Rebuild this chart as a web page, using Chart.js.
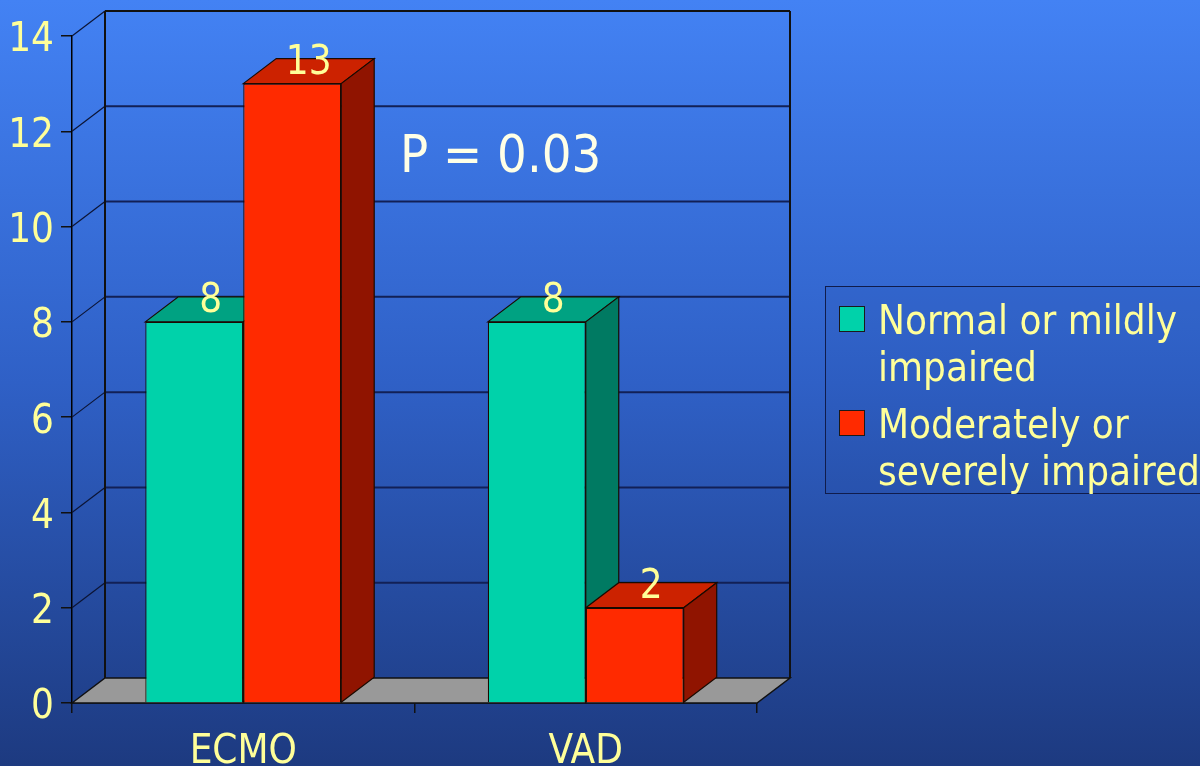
<!DOCTYPE html>
<html>
<head>
<meta charset="utf-8">
<script src="https://cdn.jsdelivr.net/npm/chart.js@4.4.1/dist/chart.umd.min.js"></script>
<style>
  html, body { margin: 0; padding: 0; width: 1200px; height: 766px; overflow: hidden; }
  body {
    position: relative;
    background: linear-gradient(to bottom, #4382f4 0%, #2f60c6 50%, #1d3a80 100%);
    font-family: 'DejaVu Sans Condensed', 'DejaVu Sans', sans-serif;
  }
  #chart { position: absolute; left: 0; top: 0; }
  #legend {
    position: absolute; left: 825px; top: 286px; width: 400px; height: 206px;
    border: 1.5px solid #101c4c; background: rgba(10, 20, 80, 0.04);
    color: #ffff99; font-size: 40px; line-height: 47px;
  }
  .item { position: absolute; left: 0; }
  .swatch { position: absolute; left: 13px; top: 9px; width: 24px; height: 24px; border: 1.5px solid #1a1a1a; }
  .text { position: absolute; left: 52px; top: 0; white-space: nowrap; }
</style>
</head>
<body>
<canvas id="chart" width="1200" height="766"></canvas>
<div id="legend"></div>
<script>
// 1. Data
const categories = ['ECMO', 'VAD'];
const normalValues = [8, 8];
const impairedValues = [13, 2];
const seriesLabels = [['Normal or mildly', 'impaired'], ['Moderately or', 'severely impaired']];
const yTicks = [0, 2, 4, 6, 8, 10, 12, 14];
const pValueText = 'P = 0.03';

// Colours per series: front, top, side
const palette = [
    { front: '#00d2aa', top: '#00a282', side: '#007a62' },
    { front: '#ff2a00', top: '#cc2200', side: '#901400' }
];

const FONT = "'DejaVu Sans Condensed', 'DejaVu Sans', sans-serif";
const TEXT_COLOR = '#ffff99';
const DX = 33, DY = -25;   // depth of the 3D box

// 2. 3D plugin: wall, floor, bar tops/sides, value labels
function poly(ctx, pts, fill, stroke) {
    ctx.beginPath();
    ctx.moveTo(pts[0][0], pts[0][1]);
    pts.slice(1).forEach(p => ctx.lineTo(p[0], p[1]));
    ctx.closePath();
    if (fill) { ctx.fillStyle = fill; ctx.fill(); }
    if (stroke) { ctx.strokeStyle = stroke; ctx.stroke(); }
}

const threeD = {
    id: 'threeD',
    beforeDatasetsDraw(chart) {
        const { ctx, chartArea: a, scales: { y } } = chart;
        ctx.save();
        ctx.lineWidth = 1.5;

        // floor
        poly(ctx, [[a.left, a.bottom], [a.left + DX, a.bottom + DY], [a.right + DX, a.bottom + DY], [a.right, a.bottom]], '#999999', '#111111');

        // back wall gridlines + left diagonals
        yTicks.forEach(v => {
            if (v === 0) return;
            const py = y.getPixelForValue(v);
            const isTop = v === yTicks[yTicks.length - 1];
            ctx.strokeStyle = '#0c1434';
            ctx.lineWidth = 1.2;
            ctx.beginPath();
            ctx.moveTo(a.left, py);
            ctx.lineTo(a.left + DX, py + DY);
            ctx.stroke();
            ctx.lineWidth = isTop ? 2.2 : 2;
            ctx.strokeStyle = isTop ? '#111111' : '#122056';
            ctx.beginPath();
            ctx.moveTo(a.left + DX, py + DY);
            ctx.lineTo(a.right + DX, py + DY);
            ctx.stroke();
        });
        // wall verticals
        const wallTop = y.getPixelForValue(yTicks[yTicks.length - 1]) + DY;
        ctx.strokeStyle = '#111111';
        ctx.lineWidth = 2;
        [a.left + DX, a.right + DX].forEach(px => {
            ctx.beginPath();
            ctx.moveTo(px, wallTop);
            ctx.lineTo(px, a.bottom + DY);
            ctx.stroke();
        });

        // bar top and side faces (fronts are drawn by Chart.js)
        ctx.lineWidth = 1.2;
        chart.data.datasets.forEach((ds, i) => {
            chart.getDatasetMeta(i).data.forEach(bar => {
                const l = bar.x - bar.width / 2, r = bar.x + bar.width / 2;
                const t = bar.y, b = bar.base;
                poly(ctx, [[l, t], [l + DX, t + DY], [r + DX, t + DY], [r, t]], palette[i].top, '#1a0a00');
                poly(ctx, [[r, t], [r + DX, t + DY], [r + DX, b + DY], [r, b]], palette[i].side, '#1a0a00');
            });
        });
        ctx.restore();
    },
    afterDatasetsDraw(chart) {
        const { ctx } = chart;
        ctx.save();
        ctx.font = '40px ' + FONT;
        ctx.fillStyle = TEXT_COLOR;
        ctx.textAlign = 'center';
        ctx.textBaseline = 'alphabetic';
        chart.data.datasets.forEach((ds, i) => {
            chart.getDatasetMeta(i).data.forEach((bar, j) => {
                ctx.fillText(String(ds.data[j]), bar.x + DX / 2, bar.y + DY / 2 + 3);
            });
        });

        // p value annotation
        ctx.font = '52px ' + FONT;
        ctx.fillStyle = '#ffffe6';
        ctx.textAlign = 'left';
        ctx.fillText(pValueText, 400, 172);
        ctx.restore();
    }
};

// 3. Chart
const ctx = document.getElementById('chart');
new Chart(ctx, {
    type: 'bar',
    data: {
        labels: categories,
        datasets: [
            { label: seriesLabels[0], data: normalValues, backgroundColor: palette[0].front },
            { label: seriesLabels[1], data: impairedValues, backgroundColor: palette[1].front }
        ]
    },
    options: {
        responsive: false,
        animation: false,
        layout: { padding: { top: 36, right: 443, bottom: 0, left: 0 } },
        datasets: {
            bar: {
                categoryPercentage: 0.572,
                barPercentage: 1.0,
                borderWidth: 1.2,
                borderColor: '#1a0a00',
                borderSkipped: 'start'
            }
        },
        plugins: {
            legend: { display: false },
            tooltip: { enabled: false }
        },
        scales: {
            x: {
                offset: true,
                grid: { offset: true, drawOnChartArea: false, drawTicks: true, tickLength: 10, color: '#111111', lineWidth: 1.5 },
                border: { display: true, color: '#000000', width: 1.5 },
                ticks: { color: TEXT_COLOR, font: { family: FONT, size: 40 }, padding: 16, maxRotation: 0 },
                afterFit: scale => { scale.height = 63; }
            },
            y: {
                min: 0,
                max: 14,
                afterBuildTicks: scale => { scale.ticks = yTicks.map(v => ({ value: v })); },
                grid: { drawOnChartArea: false, drawTicks: true, tickLength: 11, color: '#111111', lineWidth: 1.5 },
                border: { display: true, color: '#000000', width: 1.5 },
                ticks: { color: TEXT_COLOR, font: { family: FONT, size: 40 }, padding: 7, labelOffset: 5 },
                afterFit: scale => { scale.width = 72; }
            }
        }
    },
    plugins: [threeD]
});

// 4. Legend (HTML)
const legend = document.getElementById('legend');
seriesLabels.forEach((lines, i) => {
    const item = document.createElement('div');
    item.className = 'item';
    item.style.top = (10 + i * 104) + 'px';
    item.innerHTML = `<div class="swatch" style="background:${palette[i].front}"></div>` +
        `<div class="text">${lines.join('<br>')}</div>`;
    legend.appendChild(item);
});
</script>
</body>
</html>
